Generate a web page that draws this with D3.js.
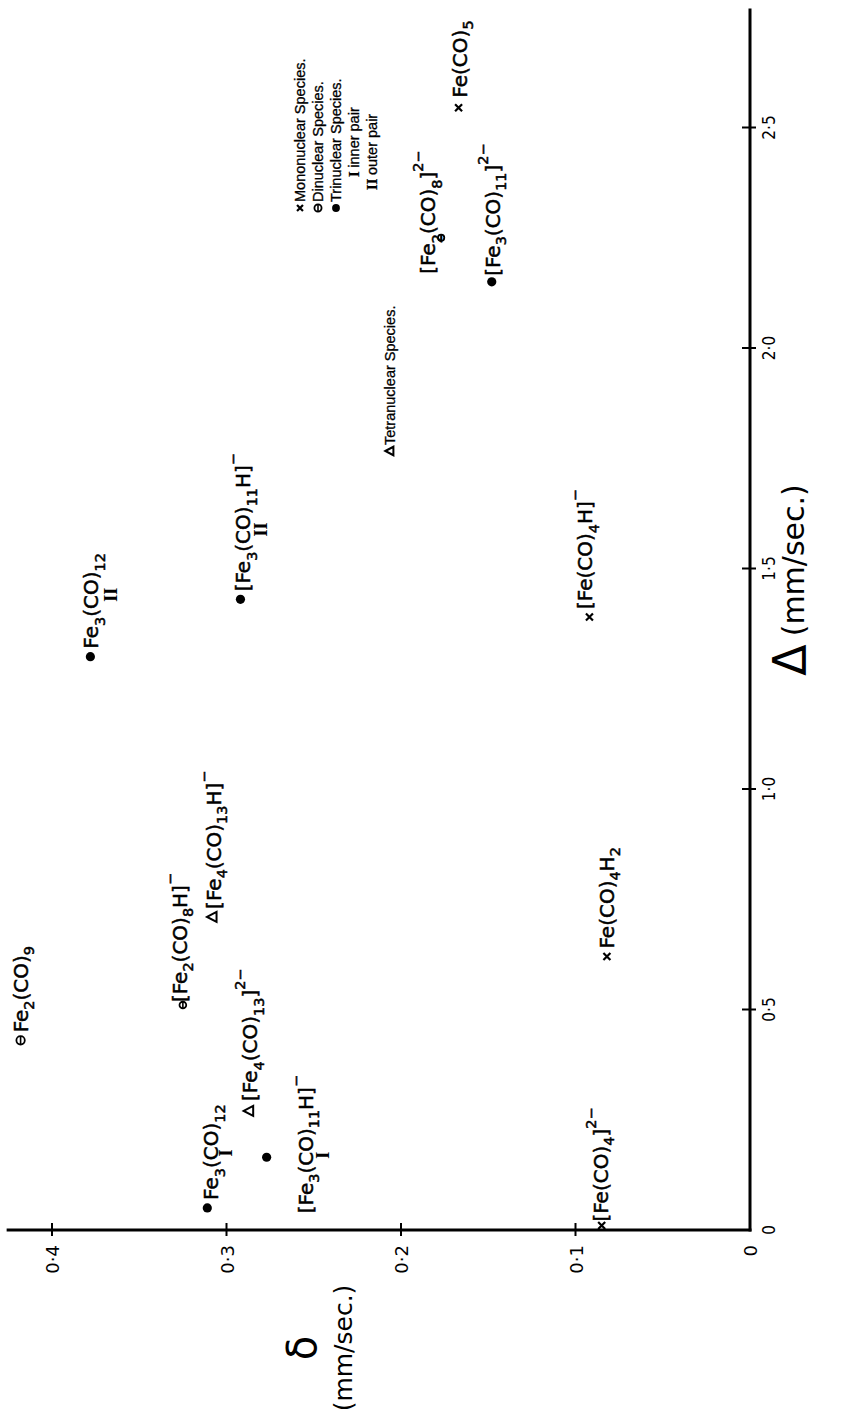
<!DOCTYPE html>
<html><head><meta charset="utf-8">
<script src="https://cdn.jsdelivr.net/npm/d3@7/dist/d3.min.js"></script>
<style>html,body{margin:0;padding:0;background:#fff;} svg{display:block;}</style>
</head><body>
<svg id="chart" width="842" height="1417"></svg>
<script>
// ---------------- data ----------------
const species = ["Fe(CO)_5","[Fe(CO)_4H]^-","Fe(CO)_4H_2","[Fe(CO)_4]^{2-}","Fe_2(CO)_9","[Fe_2(CO)_8]^{2-}","[Fe_2(CO)_8H]^-","Fe_3(CO)_{12}","Fe_3(CO)_{12}","[Fe_3(CO)_{11}H]^-","[Fe_3(CO)_{11}H]^-","[Fe_3(CO)_{11}]^{2-}","[Fe_4(CO)_{13}H]^-","[Fe_4(CO)_{13}]^{2-}"];
const nuclearity = ["mono","mono","mono","mono","di","di","di","tri","tri","tri","tri","tri","tetra","tetra"];
const sitePair = ["","","","","","","","II","I","II","I","","",""];
const isomerShift = [0.167,0.092,0.082,0.085,0.418,0.177,0.325,0.378,0.311,0.292,0.277,0.148,0.308,0.287];
const quadSplit   = [2.545,1.39,0.62,0.01,0.43,2.25,0.51,1.30,0.05,1.43,0.165,2.15,0.71,0.27];

const deltaTicks = [0,0.1,0.2,0.3,0.4];
const deltaTickLabels = ["0","0·1","0·2","0·3","0·4"];
const quadTicks = [0,0.5,1.0,1.5,2.0,2.5];
const quadTickLabels = ["0","0·5","1·0","1·5","2·0","2·5"];

const legendKinds = ["mono","di","tri","","","tetra"];
const legendTexts = ["Mononuclear Species.","Dinuclear Species.","Trinuclear Species.","inner pair","outer pair","Tetranuclear Species."];
const legendNumerals = ["","","","I","II",""];

// ---------------- layout (positions/styles only) ----------------
const labelOffset = [[10,8],[8,3],[8,7],[4,6],[8,7],[-36,-6],[3,4],[8,8],[8,11],[8,10],[-56,46],[6,8],[8,8],[10,8]];
const markerScale = [1,1,1,1,1,0.75,0.8,1,1,1,1,1,1,1];
const siteOffset  = [null,null,null,null,null,null,null,[62,27],[55,25],[70,27],[2,62],null,null,null];

const FONT = "'DejaVu Sans', sans-serif";
const LFONT = "'Liberation Sans', sans-serif";
const SERIF = "'Liberation Serif', serif";
const svg = d3.select('#chart');
svg.append('rect').attr('width',842).attr('height',1417).attr('fill','#fff');

const x = d3.scaleLinear().domain([0,0.4]).range([750,52]);
const y = d3.scaleLinear().domain([0,2.5]).range([1230,127.5]);
const deltaAxisEnd = 0.426, quadAxisEnd = 2.77;

// axes
const ax = svg.append('g').attr('stroke','#000');
ax.append('line').attr('x1',x(0)+1.5).attr('x2',x(deltaAxisEnd)).attr('y1',y(0)).attr('y2',y(0)).attr('stroke-width',3);
ax.append('line').attr('x1',x(0)).attr('x2',x(0)).attr('y1',y(0)+1.5).attr('y2',y(quadAxisEnd)).attr('stroke-width',3);
deltaTicks.forEach(t=>{ if(t===0) return;
  ax.append('line').attr('x1',x(t)).attr('x2',x(t)).attr('y1',y(0)-7).attr('y2',y(0)+6).attr('stroke-width',2);
});
quadTicks.forEach(t=>{ if(t===0) return;
  ax.append('line').attr('x1',x(0)-8).attr('x2',x(0)+6).attr('y1',y(t)).attr('y2',y(t)).attr('stroke-width',2);
});

function rot(px,py){ return `translate(${px},${py}) rotate(-90)`; }

// tick labels
deltaTicks.forEach((t,i)=>{
  svg.append('g').attr('transform',rot(x(t), y(0)))
    .append('text').attr('x',-15).attr('y',7).attr('text-anchor','end')
    .attr('font-family',FONT).attr('font-size',18).text(deltaTickLabels[i]);
});
quadTicks.forEach((t,i)=>{
  svg.append('g').attr('transform',rot(x(0), y(t)))
    .append('text').attr('x',0).attr('y',25).attr('text-anchor','middle')
    .attr('font-family',FONT).attr('font-size',18).attr('transform','scale(0.85,1)').text(quadTickLabels[i]);
});

// axis titles
const gT = svg.append('g').attr('transform',rot(806, 580));
const tq = gT.append('text').attr('text-anchor','middle').attr('font-family',FONT);
tq.append('tspan').attr('font-size',46).text('Δ');
tq.append('tspan').attr('font-size',30).attr('dx',8).attr('dy',-2).text('(mm/sec.)');

const gD = svg.append('g').attr('transform',rot(316, 1348));
gD.append('text').attr('text-anchor','middle').attr('font-family',FONT).attr('font-size',40).text('δ');
gD.append('text').attr('text-anchor','middle').attr('font-family',FONT).attr('font-size',25).attr('y',36).text('(mm/sec.)');

// markup parser for sub/superscripts
function parseMarkup(s){
  const out=[]; let i=0, cur='';
  while(i<s.length){
    const c=s[i];
    if(c==='_'||c==='^'){
      if(cur){out.push({t:cur,k:'n'});cur='';}
      let j=i+1, seg;
      if(s[j]==='{'){ const k=s.indexOf('}',j); seg=s.slice(j+1,k); i=k+1; }
      else { seg=s[j]; i=j+1; }
      out.push({t:seg,k:c==='_'?'sub':'sup'});
    } else { cur+=c; i++; }
  }
  if(cur) out.push({t:cur,k:'n'});
  return out;
}
function addRich(textSel, s, fs){
  let shift=0;
  parseMarkup(s).forEach(p=>{
    const target = p.k==='sub'? fs*0.32 : p.k==='sup'? -fs*0.6 : 0;
    const ts = textSel.append('tspan').text(p.t.replace('-','−')).attr('dy', target-shift);
    shift = target;
    if(p.k!=='n') ts.attr('font-size', fs*0.72);
  });
}

// marker drawing in the text's own frame
function drawMarker(g, kind, cx, cy, s){
  s = s||1;
  if(kind==='mono'){
    g.append('path').attr('d',`M${cx-3.5*s},${cy-3.5*s}L${cx+3.5*s},${cy+3.5*s}M${cx-3.5*s},${cy+3.5*s}L${cx+3.5*s},${cy-3.5*s}`)
     .attr('stroke','#000').attr('stroke-width',2.2);
  } else if(kind==='di'){
    g.append('circle').attr('cx',cx).attr('cy',cy).attr('r',4.2*s).attr('fill','none').attr('stroke','#000').attr('stroke-width',1.8);
    g.append('line').attr('x1',cx-4.2*s).attr('x2',cx+4.2*s).attr('y1',cy).attr('y2',cy).attr('stroke','#000').attr('stroke-width',1.6);
  } else if(kind==='tri'){
    g.append('circle').attr('cx',cx).attr('cy',cy).attr('r',4.6*s).attr('fill','#000');
  } else if(kind==='tetra'){
    g.append('path').attr('d',`M${cx},${cy-5.5*s}L${cx+5*s},${cy+4*s}L${cx-5*s},${cy+4*s}Z`)
     .attr('fill','none').attr('stroke','#000').attr('stroke-width',2);
  }
}

// points and labels
species.forEach((sp,i)=>{
  const px = x(isomerShift[i]), py = y(quadSplit[i]);
  const g = svg.append('g').attr('transform',rot(px,py));
  drawMarker(g, nuclearity[i], 0, 0, markerScale[i]);
  const t = g.append('text').attr('x',labelOffset[i][0]).attr('y',labelOffset[i][1])
    .attr('font-family',FONT).attr('font-size',20).attr('stroke','#000').attr('stroke-width',0.5);
  addRich(t, sp, 20);
  if(sitePair[i] && siteOffset[i]){
    g.append('text').attr('x',siteOffset[i][0]).attr('y',siteOffset[i][1]).attr('text-anchor','middle')
      .attr('font-family',SERIF).attr('font-weight','bold').attr('font-size',18).text(sitePair[i]);
  }
});

// legend
const lg = svg.append('g').attr('transform',rot(300,212));
const legStart = [0,0,0,35,22,-243];
legendTexts.forEach((txt,i)=>{
  const ly = 5 + i*18;
  let sx = legStart[i];
  if(legendKinds[i]){ drawMarker(lg, legendKinds[i], sx+4, ly-5, 0.85); sx += 10; }
  const t = lg.append('text').attr('x',sx).attr('y',ly).attr('font-family',LFONT).attr('font-size',14.5)
    .attr('stroke','#000').attr('stroke-width',0.3);
  if(legendNumerals[i]){
    t.append('tspan').attr('font-family',SERIF).attr('font-weight','bold').text(legendNumerals[i]+' ');
  }
  t.append('tspan').text(txt);
});
</script>
</body></html>
